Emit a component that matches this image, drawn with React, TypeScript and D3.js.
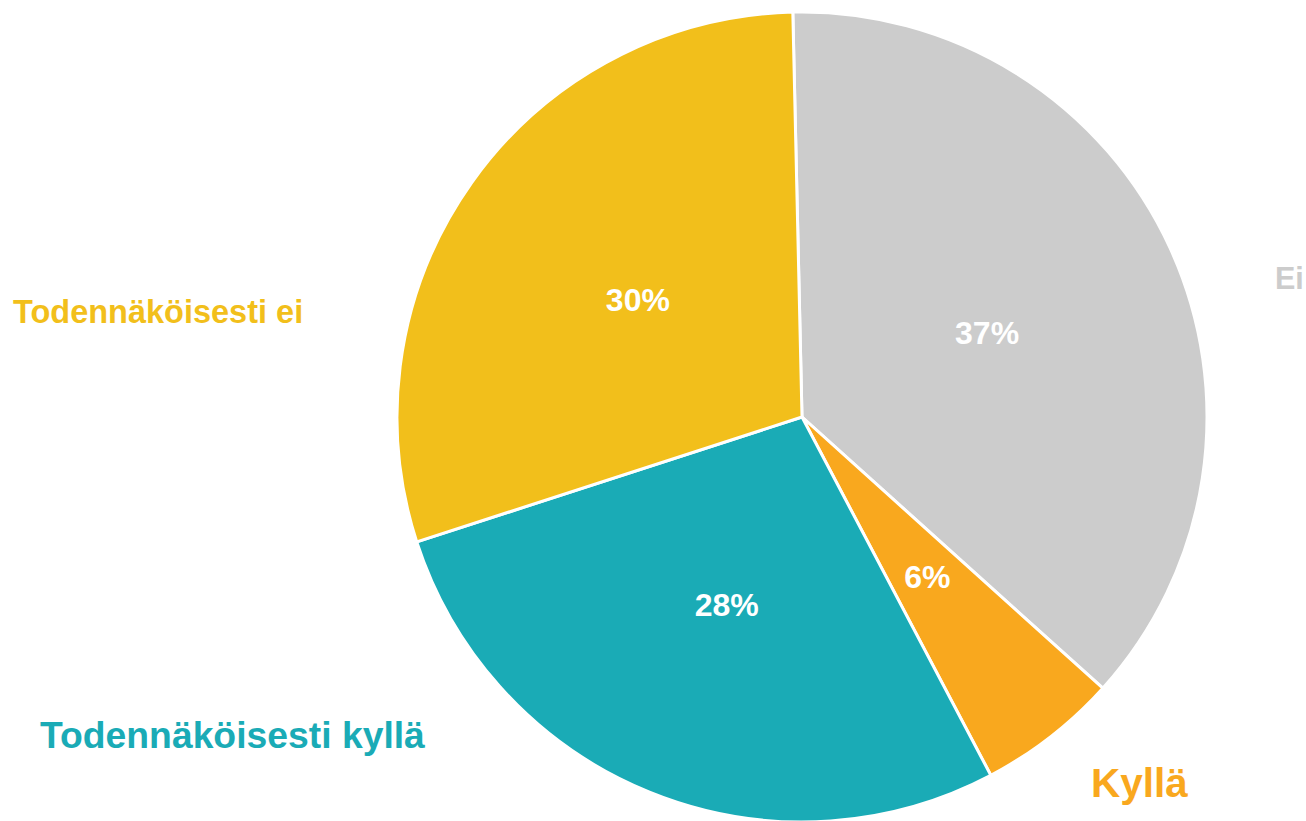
import React from 'react';
import * as d3 from 'd3';

// answer categories, clockwise from the top
const categories = ['Ei', 'Kyllä', 'Todennäköisesti kyllä', 'Todennäköisesti ei'];
const shares = [37.0, 5.6, 27.7, 29.6];
const colors = ['#CCCCCC', '#F9A81E', '#1AABB6', '#F2BF1B'];

// outside category labels: offset from pie centre, font size
const outerLabels = [
  { dx: 473, dy: -128, size: 30.5 },
  { dx: 289, dy: 380, size: 40.5 },
  { dx: -762, dy: 331, size: 37.3 },
  { dx: -789, dy: -94, size: 32.5 },
];

export default function App() {
  const width = 1306;
  const height = 821;
  const cx = 802;
  const cy = 417;
  const radius = 405;
  const rot = (-1.3 * Math.PI) / 180;

  const pie = d3
    .pie<number>()
    .sort(null)
    .startAngle(rot)
    .endAngle(2 * Math.PI + rot);
  const arcs = pie(shares);

  const arc = d3.arc<d3.PieArcDatum<number>>().innerRadius(0).outerRadius(radius);
  const labelArc = d3
    .arc<d3.PieArcDatum<number>>()
    .innerRadius(radius * 0.5)
    .outerRadius(radius * 0.5);

  const font = '"Liberation Sans", Arial, sans-serif';

  return (
    <svg
      width={width}
      height={height}
      style={{ position: 'fixed', top: 0, left: 0, background: '#fff' }}
    >
      <g transform={`translate(${cx},${cy})`}>
        {arcs.map((a, i) => (
          <path
            key={categories[i]}
            d={arc(a) || ''}
            fill={colors[i]}
            stroke="#fff"
            strokeWidth={3}
            strokeLinejoin="round"
          />
        ))}
        {arcs.map((a, i) => {
          const [x, y] = labelArc.centroid(a);
          return (
            <text
              key={'p' + i}
              x={x + 1}
              y={y}
              textAnchor="middle"
              dominantBaseline="central"
              fill="#fff"
              fontFamily={font}
              fontWeight="bold"
              fontSize={32}
            >
              {Math.round(a.data) + '%'}
            </text>
          );
        })}
        {categories.map((c, i) => (
          <text
            key={'c' + i}
            x={outerLabels[i].dx}
            y={outerLabels[i].dy}
            fill={colors[i]}
            fontFamily={font}
            fontWeight="bold"
            fontSize={outerLabels[i].size}
          >
            {c}
          </text>
        ))}
      </g>
    </svg>
  );
}
